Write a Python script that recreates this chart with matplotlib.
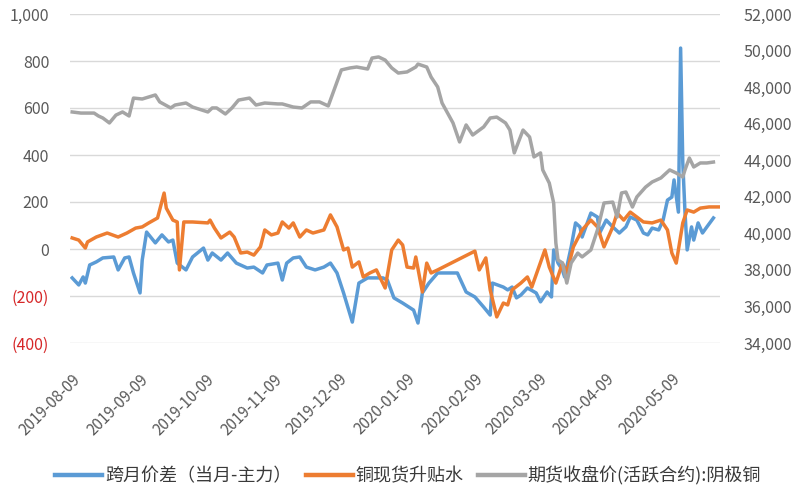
import matplotlib
matplotlib.use("Agg")
import matplotlib.pyplot as plt
import pandas as pd

plt.rcParams['font.family'] = ['Noto Sans CJK SC', 'DejaVu Sans']

# ---------------- data ----------------
spread_dates = ["2019-08-09","2019-08-12","2019-08-14","2019-08-15","2019-08-17","2019-08-20","2019-08-23","2019-08-28","2019-08-30",
 "2019-09-02","2019-09-04","2019-09-06","2019-09-09","2019-09-10","2019-09-12","2019-09-16","2019-09-19","2019-09-22","2019-09-24","2019-09-26","2019-09-30",
 "2019-10-03","2019-10-08","2019-10-10","2019-10-12","2019-10-16","2019-10-19","2019-10-23","2019-10-28","2019-10-31",
 "2019-11-04","2019-11-06","2019-11-11","2019-11-13","2019-11-15","2019-11-18","2019-11-21","2019-11-24","2019-11-28",
 "2019-12-02","2019-12-05","2019-12-08","2019-12-11","2019-12-15","2019-12-18","2019-12-22","2019-12-29","2019-12-31",
 "2020-01-03","2020-01-07","2020-01-12","2020-01-14","2020-01-16","2020-01-19","2020-01-23",
 "2020-02-01","2020-02-05","2020-02-09","2020-02-13","2020-02-16","2020-02-17","2020-02-22","2020-02-24","2020-02-26","2020-02-28",
 "2020-03-01","2020-03-04","2020-03-08","2020-03-10","2020-03-13","2020-03-15","2020-03-16","2020-03-18","2020-03-20","2020-03-21","2020-03-24","2020-03-26","2020-03-28","2020-03-29",
 "2020-04-02","2020-04-05","2020-04-06","2020-04-09","2020-04-12","2020-04-15","2020-04-18","2020-04-20","2020-04-23","2020-04-26","2020-04-28","2020-04-30",
 "2020-05-03","2020-05-05","2020-05-07","2020-05-09","2020-05-10","2020-05-12","2020-05-13","2020-05-14","2020-05-15","2020-05-16","2020-05-18","2020-05-19","2020-05-21","2020-05-23","2020-05-25","2020-05-28"]
spread_values = [-123,-153,-119,-145,-68,-55,-38,-34,-89,
 -38,-34,-102,-187,-47,72,26,60,30,38,-60,-89,
 -34,4,-47,-17,-47,-17,-60,-81,-77,
 -102,-68,-60,-132,-60,-38,-34,-77,-89,
 -77,-60,-102,-187,-311,-145,-123,-123,-132,
 -208,-230,-260,-315,-187,-145,-102,
 -102,-183,-204,-247,-281,-145,-162,-174,-162,-208,
 -196,-166,-187,-225,-183,-204,-4,-60,-89,-119,9,111,94,51,
 153,136,68,123,94,68,94,136,123,68,60,89,
 81,123,208,221,294,157,855,366,157,-4,94,38,111,68,94,132]

basis_dates = ["2019-08-09","2019-08-12","2019-08-15","2019-08-16","2019-08-20","2019-08-25","2019-08-30",
 "2019-09-03","2019-09-07","2019-09-10","2019-09-13","2019-09-17","2019-09-20","2019-09-21","2019-09-24","2019-09-26","2019-09-27","2019-09-29",
 "2019-10-03","2019-10-10","2019-10-11","2019-10-13","2019-10-16","2019-10-20","2019-10-22","2019-10-25","2019-10-28","2019-10-31",
 "2019-11-03","2019-11-05","2019-11-08","2019-11-11","2019-11-13","2019-11-16","2019-11-18","2019-11-21","2019-11-24","2019-11-27",
 "2019-12-02","2019-12-05","2019-12-08","2019-12-11","2019-12-13","2019-12-15","2019-12-18","2019-12-20","2019-12-23","2019-12-26","2019-12-30",
 "2020-01-02","2020-01-05","2020-01-07","2020-01-09","2020-01-12","2020-01-13","2020-01-16","2020-01-18","2020-01-20","2020-01-23",
 "2020-02-09","2020-02-11","2020-02-14","2020-02-16","2020-02-19","2020-02-22","2020-02-24","2020-02-26",
 "2020-03-01","2020-03-04","2020-03-06","2020-03-12","2020-03-14","2020-03-17","2020-03-20","2020-03-22","2020-03-25","2020-03-29",
 "2020-04-02","2020-04-05","2020-04-08","2020-04-12","2020-04-14","2020-04-17","2020-04-20","2020-04-23","2020-04-26","2020-04-30",
 "2020-05-04","2020-05-07","2020-05-09","2020-05-11","2020-05-14","2020-05-16","2020-05-19","2020-05-22","2020-05-26","2020-05-31"]
basis_values = [47,38,4,30,51,68,51,
 68,89,94,111,132,238,174,123,115,-89,115,
 115,111,123,89,47,72,51,-17,-13,-26,
 9,81,60,68,115,89,111,51,81,68,
 81,145,94,-4,4,-77,-55,-119,-102,-89,-166,
 -4,38,17,-77,-81,-34,-183,-60,-102,-89,
 -9,-89,-38,-174,-289,-230,-238,-174,
 -145,-119,-162,-4,-77,-145,-60,-102,9,81,
 123,94,9,94,153,123,157,136,115,111,
 123,81,-17,-60,111,166,157,174,179,179]

price_dates = ["2019-08-09","2019-08-13","2019-08-19","2019-08-21","2019-08-23","2019-08-26","2019-08-29",
 "2019-09-01","2019-09-04","2019-09-06","2019-09-10","2019-09-13","2019-09-16","2019-09-18","2019-09-23","2019-09-25","2019-09-30",
 "2019-10-03","2019-10-10","2019-10-12","2019-10-14","2019-10-18","2019-10-21","2019-10-24","2019-10-29",
 "2019-11-01","2019-11-05","2019-11-11","2019-11-13","2019-11-18","2019-11-22","2019-11-26","2019-11-30",
 "2019-12-04","2019-12-10","2019-12-14","2019-12-17","2019-12-22","2019-12-24","2019-12-27","2019-12-30",
 "2020-01-02","2020-01-05","2020-01-09","2020-01-13","2020-01-14","2020-01-18","2020-01-20","2020-01-23","2020-01-25","2020-01-30",
 "2020-02-02","2020-02-05","2020-02-08","2020-02-13","2020-02-16","2020-02-19","2020-02-23","2020-02-25","2020-02-27",
 "2020-03-02","2020-03-05","2020-03-07","2020-03-10","2020-03-11","2020-03-14","2020-03-16","2020-03-17","2020-03-18","2020-03-20","2020-03-22","2020-03-24","2020-03-27","2020-03-29",
 "2020-04-02","2020-04-05","2020-04-08","2020-04-12","2020-04-14","2020-04-16","2020-04-18","2020-04-21","2020-04-23","2020-04-27","2020-04-30",
 "2020-05-04","2020-05-08","2020-05-11","2020-05-14","2020-05-15","2020-05-17","2020-05-19","2020-05-22","2020-05-25","2020-05-28"]
price_values = [46640,46580,46580,46420,46310,46040,46470,
 46640,46420,47400,47350,47460,47570,47190,46860,47020,47130,
 46910,46640,46860,46860,46530,46860,47290,47400,
 47020,47130,47080,47080,46910,46860,47190,47190,
 46970,48940,49050,49100,48990,49590,49650,49480,
 49050,48770,48830,49100,49260,49100,48550,48010,47130,46040,
 45000,45930,45380,45820,46310,46360,46040,45650,44400,
 45650,45270,44180,44400,43470,42750,41660,39470,38540,38380,37280,38380,38920,38710,
 39090,40180,41660,41710,40890,42210,42260,41440,41990,42530,42810,
 43030,43470,43300,43080,43470,44120,43630,43850,43850,43900]

label_spread = "跨月价差（当月-主力）"
label_basis = "铜现货升贴水"
label_price = "期货收盘价(活跃合约):阴极铜"

left_ticks = [-400, -200, 0, 200, 400, 600, 800, 1000]
right_ticks = [34000, 36000, 38000, 40000, 42000, 44000, 46000, 48000, 50000, 52000]
x_tick_dates = ["2019-08-09","2019-09-09","2019-10-09","2019-11-09","2019-12-09",
                "2020-01-09","2020-02-09","2020-03-09","2020-04-09","2020-05-09"]

# ---------------- plot ----------------
c_blue = "#5b9bd5"
c_orange = "#ed7d31"
c_gray = "#a5a5a5"
txt = "#595959"

fig = plt.figure(figsize=(8, 5), dpi=100)
ax = fig.add_axes([0.0875, 0.314, 0.8125, 0.658])
ax2 = ax.twinx()

ax.plot(pd.to_datetime(spread_dates), spread_values, color=c_blue, lw=2.5, label=label_spread, solid_joinstyle='round')
ax.plot(pd.to_datetime(basis_dates), basis_values, color=c_orange, lw=2.5, label=label_basis, solid_joinstyle='round')
ax2.plot(pd.to_datetime(price_dates), price_values, color=c_gray, lw=2.5, label=label_price, solid_joinstyle='round')

ax.set_ylim(-400, 1000)
ax2.set_ylim(34000, 52000)
ax.set_xlim(pd.Timestamp("2019-08-08"), pd.Timestamp("2020-05-31"))

ax.set_yticks(left_ticks)
ax.set_yticklabels([f"({abs(v)})" if v < 0 else f"{v:,}" for v in left_ticks])
for lab, v in zip(ax.get_yticklabels(), left_ticks):
    lab.set_color("#d62728" if v < 0 else txt)
ax2.set_yticks(right_ticks)
ax2.set_yticklabels([f"{v:,}" for v in right_ticks], color=txt)

ax.grid(axis='y', color="#d9d9d9", lw=1)
ax.set_axisbelow(True)
for a in (ax, ax2):
    for s in a.spines.values():
        s.set_visible(False)
    a.tick_params(length=0, labelsize=11.5)
ax.tick_params(axis='y', pad=15)
ax2.tick_params(axis='y', pad=17)

ax.set_xticks(pd.to_datetime(x_tick_dates))
ax.set_xticklabels(x_tick_dates, rotation=45, ha='right', rotation_mode='anchor', color=txt, fontsize=11)
ax.tick_params(axis='x', pad=20)

h1, l1 = ax.get_legend_handles_labels()
h2, l2 = ax2.get_legend_handles_labels()
leg = fig.legend(h1 + h2, l1 + l2, loc='center', bbox_to_anchor=(0.51, 0.048), ncol=3,
                 frameon=False, fontsize=13, handlelength=2.6, columnspacing=0.8, handletextpad=0.15)
for line in leg.get_lines():
    line.set_linewidth(3.2)
for t in leg.get_texts():
    t.set_color("#3a3a3a")

fig.savefig("out.png", dpi=100)
